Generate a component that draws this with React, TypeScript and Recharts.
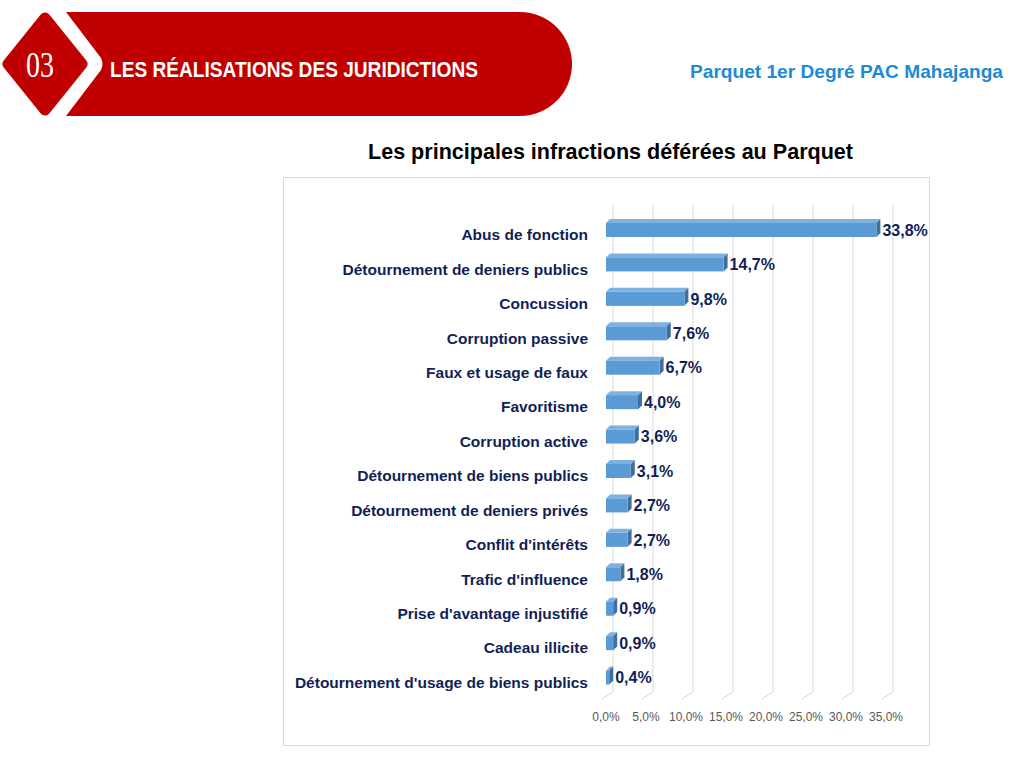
import React from 'react';
import { Bar, BarChart, CartesianGrid, LabelList, XAxis, YAxis } from 'recharts';

const categories = [
  'Abus de fonction',
  'Détournement de deniers publics',
  'Concussion',
  'Corruption passive',
  'Faux et usage de faux',
  'Favoritisme',
  'Corruption active',
  'Détournement de biens publics',
  'Détournement de deniers privés',
  "Conflit d'intérêts",
  "Trafic d'influence",
  "Prise d'avantage injustifié",
  'Cadeau illicite',
  "Détournement d'usage de biens publics",
];
const shares = [33.8, 14.7, 9.8, 7.6, 6.7, 4.0, 3.6, 3.1, 2.7, 2.7, 1.8, 0.9, 0.9, 0.4];
const xTicks = [0, 5, 10, 15, 20, 25, 30, 35];

const data = categories.map((name, i) => ({ name, value: shares[i] }));

const NAVY = '#111f55';
const DEPTH = 4;
const SANS = 'Liberation Sans, Arial, sans-serif';
const fmt = (v: number) => v.toFixed(1).replace('.', ',') + '%';

// 3D-looking bar: front face, lighter top, darker right side
function Bar3D(props: any) {
  const { x, y, width, height } = props;
  if (width == null || height == null) return null;
  const d = DEPTH;
  return (
    <g>
      <polygon
        points={`${x},${y} ${x + d},${y - d} ${x + width + d},${y - d} ${x + width},${y}`}
        fill="#7eb0e0"
      />
      <polygon
        points={`${x + width},${y} ${x + width + d},${y - d} ${x + width + d},${y + height - d} ${x + width},${y + height}`}
        fill="#3f6f9c"
      />
      <rect x={x} y={y} width={width} height={height} fill="#5b9bd5" />
    </g>
  );
}

// grid lines sit on the back wall, with a short floor segment at the bottom
function BackGridLine(props: any) {
  const { x1, y1, y2, index } = props;
  return (
    <g key={`gl-${index}`}>
      <line x1={x1 + 7} y1={y1 - 8} x2={x1 + 7} y2={y2 - 3} stroke="#d9d9d9" strokeWidth={1} />
      <line x1={x1 + 7} y1={y2 - 3} x2={x1 - 4} y2={y2 + 4} stroke="#d9d9d9" strokeWidth={1} />
    </g>
  );
}

function CategoryTick(props: any) {
  const { x, y, payload } = props;
  return (
    <text x={x} y={y + 10} textAnchor="end" fill={NAVY} fontSize={15.5} fontWeight="bold" fontFamily={SANS}>
      {payload.value}
    </text>
  );
}

function PercentTick(props: any) {
  const { x, y, payload } = props;
  return (
    <text x={x} y={y + 26} textAnchor="middle" fill="#595959" fontSize={12} fontFamily={SANS}>
      {fmt(payload.value)}
    </text>
  );
}

function Header() {
  return (
    <svg width={1024} height={180} style={{ position: 'absolute', left: 0, top: 0 }}>
      <path
        d="M66,12 L520,12 A52,52 0 0 1 520,116 L66,116 L101,70 Q104,64 101,58 Z"
        fill="#c00000"
      />
      <polygon
        points="45,18 82,64 45,110 8,64"
        fill="#c00000"
        stroke="#c00000"
        strokeWidth={11}
        strokeLinejoin="round"
      />
      <text x={26} y={77} textLength={28} lengthAdjust="spacingAndGlyphs" fill="#fff" fontSize={36} fontFamily="Liberation Serif, serif">
        03
      </text>
      <text x={110} y={77} textLength={368} lengthAdjust="spacingAndGlyphs" fill="#fff" fontSize={22} fontWeight="bold" fontFamily={SANS}>
        LES RÉALISATIONS DES JURIDICTIONS
      </text>
      <text x={690} y={78} textLength={313} lengthAdjust="spacingAndGlyphs" fill="#1c8ad6" fontSize={19} fontWeight="bold" fontFamily={SANS}>
        Parquet 1er Degré PAC Mahajanga
      </text>
      <text x={368} y={159} textLength={485} lengthAdjust="spacingAndGlyphs" fill="#000" fontSize={22} fontWeight="bold" fontFamily={SANS}>
        Les principales infractions déférées au Parquet
      </text>
    </svg>
  );
}

export default function App() {
  return (
    <div style={{ position: 'absolute', left: 0, top: 0, width: 1024, height: 768, background: '#fff', overflow: 'hidden' }}>
      <Header />
      <div
        style={{
          position: 'absolute',
          left: 283,
          top: 177,
          width: 647,
          height: 569,
          border: '1px solid #d9d9d9',
          boxSizing: 'border-box',
        }}
      />
      <div style={{ position: 'absolute', left: 0, top: 0 }}>
        <BarChart
          width={1024}
          height={768}
          data={data}
          layout="vertical"
          barSize={14}
          margin={{ top: 213, right: 138, bottom: 43, left: 0 }}
        >
          <CartesianGrid horizontal={false} vertical={BackGridLine} />
          <XAxis
            type="number"
            domain={[0, 35]}
            ticks={xTicks}
            axisLine={false}
            tickLine={false}
            tickSize={0}
            tickMargin={0}
            height={30}
            interval={0}
            tick={PercentTick}
          />
          <YAxis
            type="category"
            dataKey="name"
            width={606}
            axisLine={false}
            tickLine={false}
            tickSize={0}
            tickMargin={18}
            interval={0}
            tick={CategoryTick}
          />
          <Bar dataKey="value" shape={Bar3D} isAnimationActive={false}>
            <LabelList
              dataKey="value"
              position="right"
              offset={DEPTH + 2}
              formatter={(v: any) => fmt(Number(v))}
              fill={NAVY}
              fontSize={16}
              fontWeight="bold"
              fontFamily={SANS}
            />
          </Bar>
        </BarChart>
      </div>
    </div>
  );
}
